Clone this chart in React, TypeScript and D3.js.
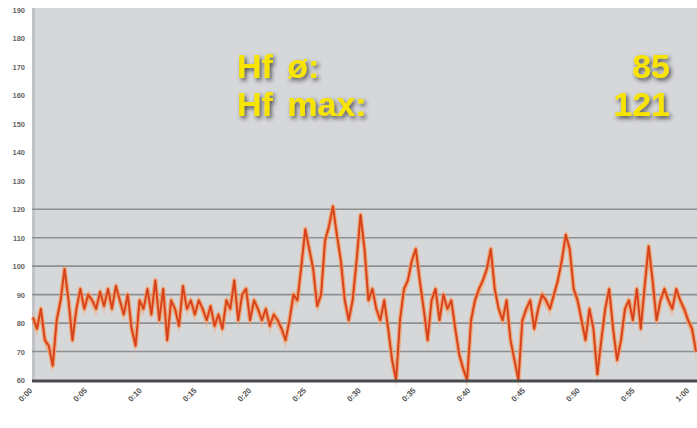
import React from "react";
import * as d3 from "d3";

const W = 697;
const H = 428;

const yTicks = [60, 70, 80, 90, 100, 110, 120, 130, 140, 150, 160, 170, 180, 190];
const gridValues = [70, 80, 90, 100, 110, 120];
const xLabels = ["0:00", "0:05", "0:10", "0:15", "0:20", "0:25", "0:30", "0:35", "0:40", "0:45", "0:50", "0:55", "1:00"];

const heartRate = [
  82, 78, 85, 74, 72, 65, 81, 88, 99, 88, 74, 85, 92, 85, 90, 88, 85, 91, 86, 92,
  85, 93, 88, 83, 90, 78, 72, 88, 85, 92, 83, 95, 81, 92, 74, 88, 85, 79, 93, 85,
  88, 83, 88, 85, 81, 86, 79, 83, 78, 88, 85, 95, 81, 90, 92, 81, 88, 85, 81, 85,
  79, 83, 81, 78, 74, 81, 90, 88, 100, 113, 106, 99, 86, 90, 109, 114, 121, 111, 102, 88,
  81, 88, 102, 118, 106, 88, 92, 85, 81, 88, 78, 67, 60, 81, 92, 95, 102, 106, 95, 85,
  74, 88, 92, 81, 90, 85, 88, 78, 69, 64, 60, 81, 88, 92, 95, 99, 106, 92, 85, 81,
  88, 74, 67, 60, 81, 85, 88, 78, 85, 90, 88, 85, 90, 95, 102, 111, 106, 92, 88, 81,
  74, 85, 78, 62, 74, 85, 92, 78, 67, 74, 85, 88, 81, 92, 78, 93, 107, 95, 81, 88,
  92, 88, 85, 92, 88, 85, 81, 78, 70
];

const avgLabel = "Hf ø:";
const avgValue = "85";
const maxLabel = "Hf max:";
const maxValue = "121";

export default function App() {
  const left = 32;
  const right = 697;
  const top = 8;
  const bottom = 381;

  const x = d3.scaleLinear().domain([0, heartRate.length - 1]).range([left + 1, right - 1]);
  const y = d3.scaleLinear().domain([60, 190]).range([380, 10]);
  const xt = d3.scaleLinear().domain([0, xLabels.length - 1]).range([33, 690]);

  const line = d3
    .line<number>()
    .x((_, i) => x(i))
    .y((d) => y(d));
  const path = line(heartRate) || "";

  const area = d3
    .area<number>()
    .x((_, i) => x(i))
    .y0((d) => y(d) + 8)
    .y1((d) => y(d) - 5);
  const areaPath = area(heartRate) || "";

  const textStyle: React.CSSProperties = {
    fontFamily: "'Liberation Sans', Arial, sans-serif",
    fontWeight: "bold",
    fontSize: 34,
    wordSpacing: 5,
  };

  return (
    <div style={{ position: "absolute", left: 0, top: 0 }}>
      <svg width={W} height={H} style={{ display: "block", background: "#ffffff" }}>
        <defs>
          <filter id="shadow" x="-10%" y="-30%" width="130%" height="160%">
            <feDropShadow dx="2" dy="2.5" stdDeviation="2" floodColor="#222" floodOpacity="0.75" />
          </filter>
          <filter id="blur" x="-5%" y="-5%" width="110%" height="110%">
            <feGaussianBlur stdDeviation="0.7" />
          </filter>
        </defs>
        <rect x={left} y={top} width={right - left} height={bottom - top} fill="#d6d7d9" />
        <rect x={left} y={top} width={3} height={bottom - top} fill="#c2c3c6" />
        {gridValues.map((v) => (
          <line key={v} x1={left} x2={right} y1={y(v)} y2={y(v)} stroke="#8e8f92" strokeWidth={1.6} />
        ))}
        {yTicks.map((v) => (
          <text
            key={v}
            x={25}
            y={y(v) + 3}
            textAnchor="end"
            fontSize={7.5}
            fill="#666"
            fontFamily="'Liberation Sans', Arial, sans-serif"
            fontWeight="bold"
          >
            {v}
          </text>
        ))}
        <g filter="url(#blur)">
          <path d={areaPath} fill="#f4ae82" opacity={0.5} />
          <path d={path} fill="none" stroke="#f29a5c" strokeWidth={4.5} strokeLinejoin="round" opacity={0.75} />
          <path d={path} fill="none" stroke="#e04a22" strokeWidth={2} strokeLinejoin="round" />
          <path d={path} fill="none" stroke="#b8301a" strokeWidth={0.6} strokeLinejoin="round" opacity={0.6} />
        </g>
        <line x1={left} x2={right} y1={381} y2={381} stroke="#4a4b4e" strokeWidth={3} />
        {xLabels.map((l, i) => (
          <text
            key={l}
            transform={`translate(${xt(i)},${391}) rotate(-45)`}
            textAnchor="end"
            fontSize={8}
            fill="#555"
            fontFamily="'Liberation Sans', Arial, sans-serif"
            fontWeight="bold"
          >
            {l}
          </text>
        ))}
        <g filter="url(#shadow)" fill="#f7e400" style={textStyle}>
          <text x={237} y={78}>{avgLabel}</text>
          <text x={670} y={78} textAnchor="end">{avgValue}</text>
          <text x={237} y={116}>{maxLabel}</text>
          <text x={670} y={116} textAnchor="end">{maxValue}</text>
        </g>
      </svg>
    </div>
  );
}
